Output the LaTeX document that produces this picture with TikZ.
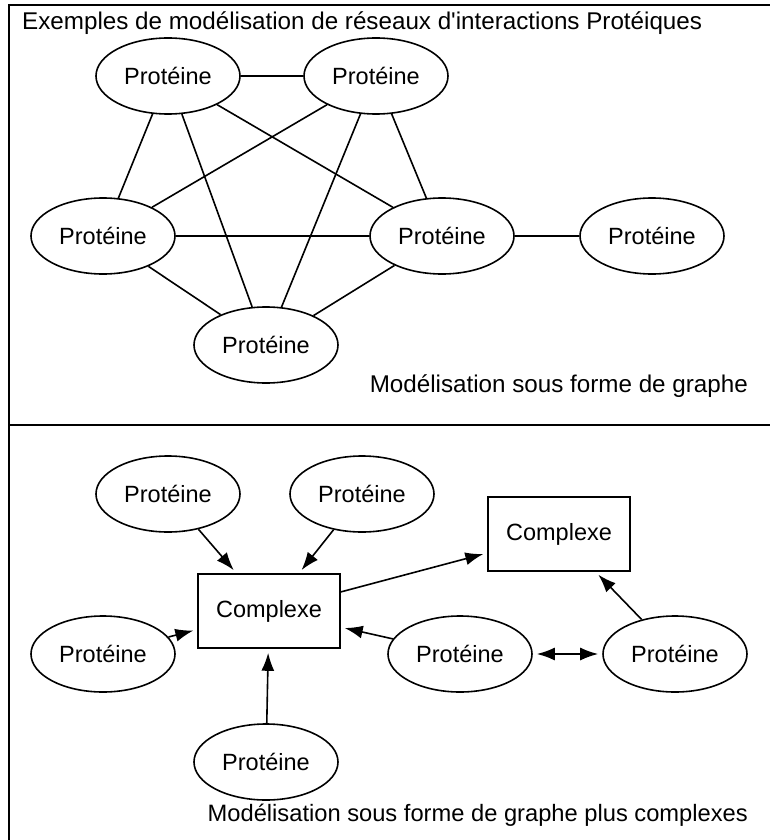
\documentclass[tikz,border=0pt]{standalone}
\usepackage{fontspec}
\setmainfont{Liberation Sans}[Ligatures=TeXOff]
\usetikzlibrary{shapes.geometric,arrows.meta}
\begin{document}
\begin{tikzpicture}[x=1pt,y=-1pt,
  prot/.style={draw,ellipse,line width=1.6pt,minimum width=144pt,minimum height=76pt,inner sep=0pt,font=\fontsize{23.5}{26}\selectfont},
  cplx/.style={draw,rectangle,line width=1.6pt,minimum width=142pt,minimum height=74pt,inner sep=0pt,font=\fontsize{23.5}{26}\selectfont},
  link/.style={line width=1.6pt},
  arr/.style={line width=1.6pt,-{Latex[length=18pt,width=13pt]},shorten >=4pt},
  biarr/.style={line width=1.6pt,{Latex[length=18pt,width=13pt]}-{Latex[length=18pt,width=13pt]},shorten >=4pt,shorten <=4pt},
  caption/.style={font=\fontsize{24.2}{27}\selectfont,inner sep=0pt}]
\useasboundingbox (0,0) rectangle (770,840);
\fill[white] (0,0) rectangle (770,840);

% frame and divider
\draw[line width=1.6pt] (9,840) -- (9,5) -- (770,5);
\draw[line width=1.6pt] (9,425) -- (770,425);

% upper panel
\node[caption,anchor=base west] (title) at (22,30) {Exemples de modélisation de réseaux d'interactions Protéiques};
\node[prot] (a) at (168,76) {Protéine};
\node[prot] (b) at (376,76) {Protéine};
\node[prot] (c) at (103,236) {Protéine};
\node[prot] (d) at (442,236) {Protéine};
\node[prot] (e) at (652,236) {Protéine};
\node[prot] (f) at (266,345) {Protéine};
\draw[link] (a) -- (b);
\draw[link] (a) -- (c);
\draw[link] (a) -- (d);
\draw[link] (a) -- (f);
\draw[link] (b) -- (c);
\draw[link] (b) -- (d);
\draw[link] (b) -- (f);
\draw[link] (c) -- (d);
\draw[link] (c) -- (f);
\draw[link] (d) -- (f);
\draw[link] (d) -- (e);
\node[caption,anchor=base east] (cap1) at (748,392) {Modélisation sous forme de graphe};

% lower panel
\node[prot] (p1) at (168,494) {Protéine};
\node[prot] (p2) at (362,494) {Protéine};
\node[cplx] (k1) at (269,611) {Complexe};
\node[cplx] (k2) at (559,534) {Complexe};
\node[prot] (p3) at (103,654) {Protéine};
\node[prot] (p4) at (460,654) {Protéine};
\node[prot] (p5) at (675,654) {Protéine};
\node[prot] (p6) at (266,762) {Protéine};
\draw[arr] (p1) -- (k1);
\draw[arr] (p2) -- (k1);
\draw[arr] (p3) -- (k1);
\draw[arr] (p4) -- (k1);
\draw[arr] (p6) -- (k1);
\draw[arr] (k1) -- (k2);
\draw[arr] (p5) -- (k2);
\draw[biarr] (p4) -- (p5);
\node[caption,anchor=base east,font=\fontsize{23.7}{27}\selectfont] (cap2) at (748,821) {Modélisation sous forme de graphe plus complexes};
\end{tikzpicture}
\end{document}
